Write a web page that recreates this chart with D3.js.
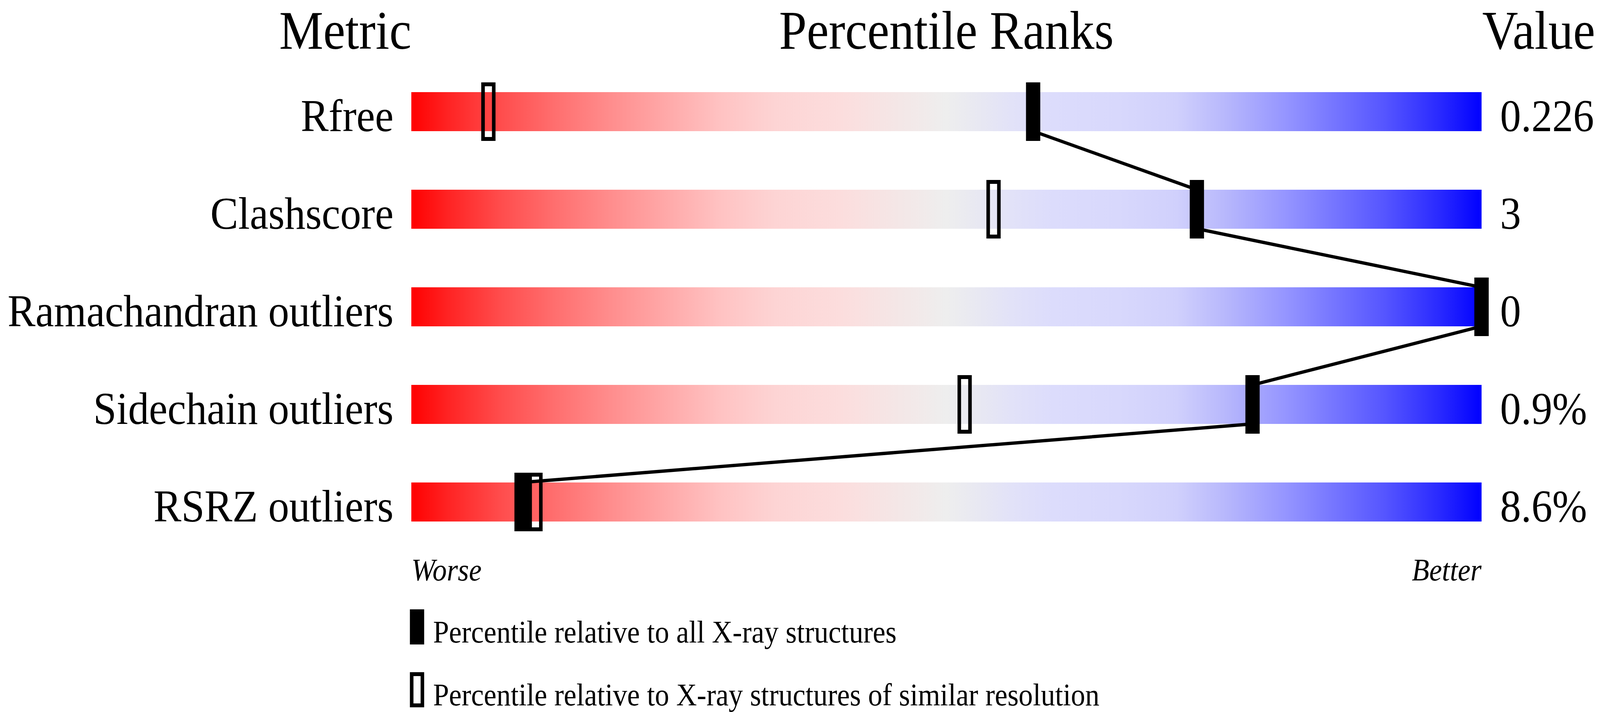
<!DOCTYPE html>
<html>
<head>
<meta charset="utf-8">
<script src="https://cdn.jsdelivr.net/npm/d3@7"></script>
<style>
  html, body { margin: 0; padding: 0; background: #fff; overflow: hidden; }
  svg { display: block; }
  text { font-family: "Liberation Serif", "Times New Roman", serif; fill: #000; }
</style>
</head>
<body>
<div class="chart-div"></div>
<script>
// values
var metrics = ["Rfree", "Clashscore", "Ramachandran outliers", "Sidechain outliers", "RSRZ outliers"];
var values = ["0.226", "3", "0", "0.9%", "8.6%"];
var pctAll = [58.1, 73.4, 100, 78.6, 10.3];      // relative to all X-ray structures
var pctSimilar = [7.2, 54.4, 100, 51.7, 11.6];   // relative to similar resolution
var headers = ["Metric", "Percentile Ranks", "Value"];
var legendLabels = ["Percentile relative to all X-ray structures",
                    "Percentile relative to X-ray structures of similar resolution"];

// bar colour ramp, worse -> better
var gradOffsets = [0, 0.033, 0.084, 0.135, 0.186, 0.237, 0.288, 0.34, 0.40, 0.47, 0.50,
                   0.53, 0.56, 0.60, 0.66, 0.715, 0.76, 0.82, 0.87, 0.91, 0.96, 1];
var gradColors = ["#ff0000", "#ff2222", "#ff4d4d", "#ff6f6f", "#ff8d8d", "#ffa8a8", "#ffc2c2",
                  "#fdd4d4", "#fcdddd", "#f2e9e9", "#eeeeee", "#e8e8f2", "#e2e2f8", "#dcdcfc",
                  "#d8d8fc", "#d0d0fc", "#b8b8fc", "#9393ff", "#7070ff", "#5555ff", "#2a2aff",
                  "#0000ff"];

var w = 4485;
var h = 1824;
var barLeft = 1153;
var barRight = 4153;
var barHeight = 100;
var markerW = 40;
var markerOver = 25;
var headerY = 125;

// viewBox stretched over the whole window so the layout keeps its proportions
var svg = d3.select(".chart-div")
    .append("svg")
    .attr("viewBox", "0 0 " + w + " " + h)
    .attr("preserveAspectRatio", "none")
    .style("width", "100vw")
    .style("height", "100vh");

var x = d3.scaleLinear().domain([0, 100]).range([barLeft, barRight]);
var y = d3.scalePoint().domain(metrics).range([286, 1286]);

// gradient
var grad = svg.append("defs").append("linearGradient")
    .attr("id", "rank-grad")
    .attr("x1", "0%").attr("x2", "100%")
    .attr("y1", "0%").attr("y2", "0%");
grad.selectAll("stop")
    .data(gradOffsets)
    .enter()
    .append("stop")
    .attr("offset", function(d) { return d; })
    .attr("stop-color", function(d, i) { return gradColors[i]; });

// headers
svg.append("text")
    .attr("x", barLeft).attr("y", headerY)
    .attr("text-anchor", "end")
    .attr("font-size", 139)
    .text(headers[0]);
svg.append("text")
    .attr("x", (barLeft + barRight) / 2).attr("y", headerY)
    .attr("text-anchor", "middle")
    .attr("font-size", 139)
    .text(headers[1]);
svg.append("text")
    .attr("x", barRight + 2).attr("y", headerY)
    .attr("font-size", 139)
    .text(headers[2]);

// bars
svg.selectAll(".bar")
    .data(metrics)
    .enter()
    .append("rect")
    .attr("class", "bar")
    .attr("x", x(0))
    .attr("y", function(d) { return y(d) - barHeight / 2; })
    .attr("width", x(100) - x(0))
    .attr("height", barHeight)
    .attr("fill", "url(#rank-grad)");

// row labels and values
svg.selectAll(".label")
    .data(metrics)
    .enter()
    .append("text")
    .attr("class", "label")
    .attr("x", barLeft - 50)
    .attr("y", function(d) { return y(d) + barHeight / 2; })
    .attr("text-anchor", "end")
    .attr("font-size", 117)
    .text(function(d) { return d; });

svg.selectAll(".value")
    .data(values)
    .enter()
    .append("text")
    .attr("class", "value")
    .attr("x", barRight + 52)
    .attr("y", function(d, i) { return y(metrics[i]) + barHeight / 2; })
    .attr("font-size", 117)
    .text(function(d) { return d; });

// open markers (similar resolution)
svg.selectAll(".open")
    .data(pctSimilar)
    .enter()
    .append("rect")
    .attr("class", "open")
    .attr("x", function(d) { return x(d) - markerW / 2 + 5; })
    .attr("y", function(d, i) { return y(metrics[i]) - barHeight / 2 - markerOver + 5; })
    .attr("width", markerW - 10)
    .attr("height", barHeight + 2 * markerOver - 10)
    .attr("fill", "none")
    .attr("stroke", "#000")
    .attr("stroke-width", 10);

// connecting line between the filled markers
var pts = [];
pctAll.forEach(function(d, i) {
    pts.push([x(d), y(metrics[i]) - barHeight / 2]);
    pts.push([x(d), y(metrics[i]) + barHeight / 2]);
});
svg.append("path")
    .attr("d", d3.line()(pts))
    .attr("fill", "none")
    .attr("stroke", "#000")
    .attr("stroke-width", 8.5);

// filled markers (all structures)
svg.selectAll(".filled")
    .data(pctAll)
    .enter()
    .append("rect")
    .attr("class", "filled")
    .attr("x", function(d) { return x(d) - markerW / 2; })
    .attr("y", function(d, i) { return y(metrics[i]) - barHeight / 2 - markerOver; })
    .attr("width", markerW)
    .attr("height", barHeight + 2 * markerOver)
    .attr("fill", "#000");

// worse / better
svg.append("text")
    .attr("x", barLeft).attr("y", 1487)
    .attr("font-size", 80)
    .attr("font-style", "italic")
    .text("Worse");
svg.append("text")
    .attr("x", barRight).attr("y", 1487)
    .attr("text-anchor", "end")
    .attr("font-size", 80)
    .attr("font-style", "italic")
    .text("Better");

// legend
var legY = [1561, 1722];
var legend = svg.selectAll(".legend")
    .data(legendLabels)
    .enter()
    .append("g")
    .attr("class", "legend")
    .attr("transform", function(d, i) { return "translate(1149," + legY[i] + ")"; });

legend.append("rect")
    .attr("x", function(d, i) { return i === 0 ? 0 : 5; })
    .attr("y", function(d, i) { return i === 0 ? 0 : 5; })
    .attr("width", function(d, i) { return i === 0 ? 40 : 30; })
    .attr("height", function(d, i) { return i === 0 ? 90 : 80; })
    .attr("fill", function(d, i) { return i === 0 ? "#000" : "none"; })
    .attr("stroke", function(d, i) { return i === 0 ? "none" : "#000"; })
    .attr("stroke-width", 10);

legend.append("text")
    .attr("x", 65)
    .attr("y", 85)
    .attr("font-size", 80)
    .text(function(d) { return d; });
</script>
</body>
</html>
